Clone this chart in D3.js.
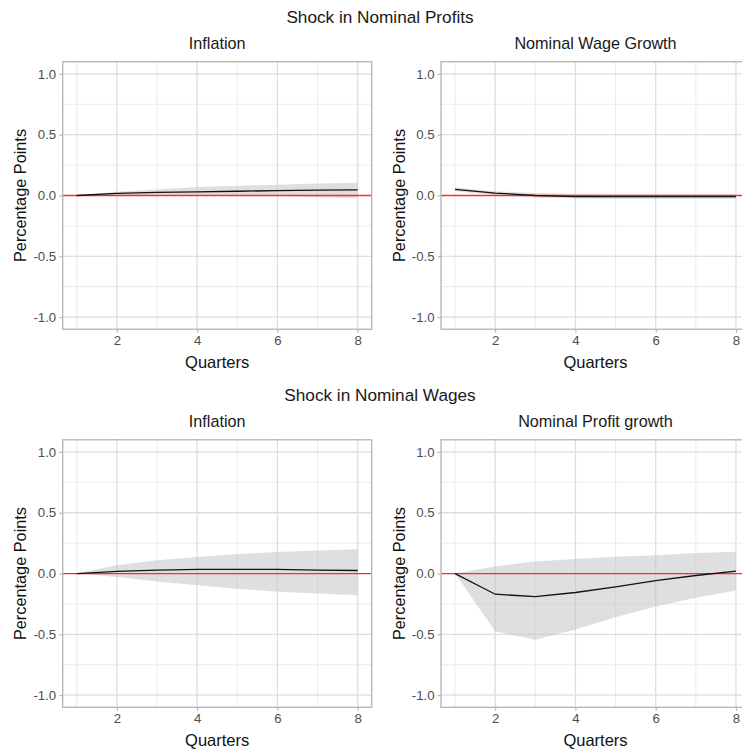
<!DOCTYPE html>
<html>
<head>
<meta charset="utf-8">
<script src="https://cdn.jsdelivr.net/npm/d3@7"></script>
<style>
  html, body { margin: 0; padding: 0; background: #fff; }
  svg { display: block; font-family: "Liberation Sans", Arial, sans-serif; }
</style>
</head>
<body>
<svg id="chart" width="742" height="754"></svg>
<script>
// Impulse responses over 8 quarters: point estimate with lower/upper bounds
const quarters = [1, 2, 3, 4, 5, 6, 7, 8];

// Shock in nominal profits -> inflation
const profitShockInflation      = [0.000, 0.018, 0.025, 0.030, 0.035, 0.040, 0.044, 0.047];
const profitShockInflationLo    = [0.000, 0.004, 0.002, 0.000, -0.002, -0.005, -0.014, -0.022];
const profitShockInflationHi    = [0.000, 0.030, 0.050, 0.070, 0.080, 0.088, 0.098, 0.105];

// Shock in nominal profits -> nominal wage growth
const profitShockWage           = [0.050, 0.020, 0.000, -0.010, -0.010, -0.010, -0.010, -0.010];
const profitShockWageLo         = [0.035, 0.004, -0.018, -0.025, -0.028, -0.028, -0.028, -0.028];
const profitShockWageHi         = [0.065, 0.035, 0.020, 0.012, 0.010, 0.010, 0.010, 0.010];

// Shock in nominal wages -> inflation
const wageShockInflation        = [0.000, 0.018, 0.028, 0.035, 0.035, 0.035, 0.028, 0.025];
const wageShockInflationLo      = [0.000, -0.028, -0.065, -0.096, -0.125, -0.150, -0.165, -0.178];
const wageShockInflationHi      = [0.000, 0.068, 0.110, 0.136, 0.160, 0.177, 0.190, 0.200];

// Shock in nominal wages -> nominal profit growth
const wageShockProfit           = [0.000, -0.170, -0.190, -0.156, -0.110, -0.058, -0.016, 0.020];
const wageShockProfitLo         = [0.000, -0.475, -0.545, -0.460, -0.360, -0.270, -0.200, -0.140];
const wageShockProfitHi         = [0.000, 0.060, 0.100, 0.120, 0.138, 0.150, 0.168, 0.180];

const xTicks = [2, 4, 6, 8];
const yTicks = [-1.0, -0.5, 0.0, 0.5, 1.0];
const yMinor = [-0.75, -0.25, 0.25, 0.75];
const xMinor = [1, 3, 5, 7];

const rowTitles = ["Shock in Nominal Profits", "Shock in Nominal Wages"];

const panels = [
  { row: 0, col: 0, title: "Inflation",            est: profitShockInflation, lo: profitShockInflationLo, hi: profitShockInflationHi },
  { row: 0, col: 1, title: "Nominal Wage Growth",  est: profitShockWage,      lo: profitShockWageLo,      hi: profitShockWageHi },
  { row: 1, col: 0, title: "Inflation",            est: wageShockInflation,   lo: wageShockInflationLo,   hi: wageShockInflationHi },
  { row: 1, col: 1, title: "Nominal Profit growth", est: wageShockProfit,     lo: wageShockProfitLo,      hi: wageShockProfitHi }
];

const svg = d3.select("#chart");

// Panel geometry
const panelW = 309, panelH = 267.5;
const colLeft = [62.7, 441];
const rowTop = [61.75, 439.8];
const rowTitleY = [23, 401];

rowTitles.forEach((t, i) => {
  svg.append("text")
    .attr("x", 380).attr("y", rowTitleY[i])
    .attr("text-anchor", "middle")
    .attr("font-size", 17.2)
    .attr("fill", "#1a1a1a")
    .text(t);
});

panels.forEach(p => {
  const left = colLeft[p.col], top = rowTop[p.row];
  const g = svg.append("g").attr("transform", `translate(${left},${top})`);

  const x = d3.scaleLinear().domain([0.65, 8.35]).range([0, panelW]);
  const y = d3.scaleLinear().domain([-1.1, 1.1]).range([panelH, 0]);

  // minor grid
  g.append("g").selectAll("line").data(xMinor).join("line")
    .attr("x1", d => x(d)).attr("x2", d => x(d)).attr("y1", 0).attr("y2", panelH)
    .attr("stroke", "#ebebeb").attr("stroke-width", 1);
  g.append("g").selectAll("line").data(yMinor).join("line")
    .attr("y1", d => y(d)).attr("y2", d => y(d)).attr("x1", 0).attr("x2", panelW)
    .attr("stroke", "#ebebeb").attr("stroke-width", 1);
  // major grid
  g.append("g").selectAll("line").data(xTicks).join("line")
    .attr("x1", d => x(d)).attr("x2", d => x(d)).attr("y1", 0).attr("y2", panelH)
    .attr("stroke", "#dedede").attr("stroke-width", 1.3);
  g.append("g").selectAll("line").data(yTicks.filter(v => v !== 0)).join("line")
    .attr("y1", d => y(d)).attr("y2", d => y(d)).attr("x1", 0).attr("x2", panelW)
    .attr("stroke", "#dedede").attr("stroke-width", 1.3);

  const rows = quarters.map((q, i) => ({ q, est: p.est[i], lo: p.lo[i], hi: p.hi[i] }));

  // confidence band
  g.append("path").datum(rows)
    .attr("d", d3.area().x(d => x(d.q)).y0(d => y(d.lo)).y1(d => y(d.hi)))
    .attr("fill", "#c4c4c4").attr("fill-opacity", 0.55);

  // zero reference line
  g.append("line")
    .attr("x1", 0).attr("x2", panelW).attr("y1", y(0)).attr("y2", y(0))
    .attr("stroke", "#ff2a2a").attr("stroke-width", 1.3);

  // point estimate
  g.append("path").datum(rows)
    .attr("d", d3.line().x(d => x(d.q)).y(d => y(d.est)))
    .attr("fill", "none").attr("stroke", "#111").attr("stroke-width", 1.3);

  // panel border
  g.append("rect")
    .attr("x", 0).attr("y", 0).attr("width", panelW).attr("height", panelH)
    .attr("fill", "none").attr("stroke", "#b3b3b3").attr("stroke-width", 1.3);

  // axes
  const xAxis = g.append("g").attr("transform", `translate(0,${panelH})`)
    .call(d3.axisBottom(x).tickValues(xTicks).tickFormat(d3.format("d")).tickSize(3.5).tickPadding(3));
  const yAxis = g.append("g")
    .call(d3.axisLeft(y).tickValues(yTicks).tickFormat(d3.format(".1f")).tickSize(3.5).tickPadding(3));
  [xAxis, yAxis].forEach(a => {
    a.select(".domain").remove();
    a.selectAll(".tick line").attr("stroke", "#b3b3b3").attr("stroke-width", 1.1);
    a.selectAll(".tick text").attr("fill", "#4d4d4d").attr("font-size", 13.2)
      .attr("font-family", "'Liberation Sans', Arial, sans-serif");
  });
  yAxis.selectAll(".tick text").text(d => d3.format(".1f")(d).replace("−", "-"));

  // panel title
  g.append("text")
    .attr("x", panelW / 2).attr("y", -12.5)
    .attr("text-anchor", "middle").attr("font-size", 16.2).attr("fill", "#1a1a1a")
    .text(p.title);

  // axis titles
  g.append("text")
    .attr("x", panelW / 2).attr("y", panelH + 38.5)
    .attr("text-anchor", "middle").attr("font-size", 16.5).attr("fill", "#111")
    .text("Quarters");
  g.append("text")
    .attr("transform", `translate(-36.5,${panelH / 2}) rotate(-90)`)
    .attr("text-anchor", "middle").attr("font-size", 16.3).attr("fill", "#111")
    .text("Percentage Points");
});
</script>
</body>
</html>
